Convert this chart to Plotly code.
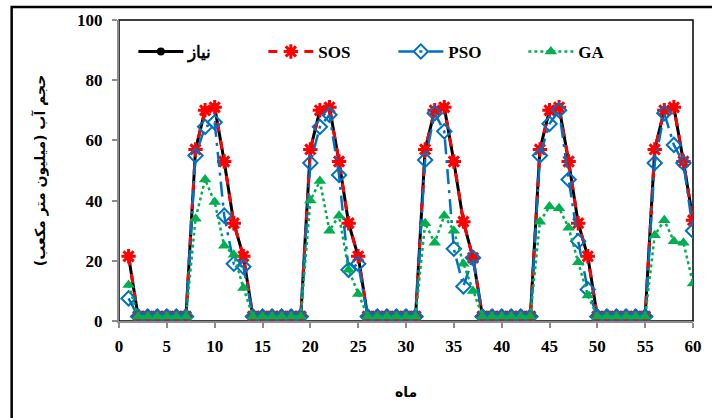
import plotly.graph_objects as go

months = list(range(1, 61))

demand = [21.5, 1.5, 1.5, 1.5, 1.5, 1.5, 1.5, 57, 70, 71, 53, 32.5,
          21.5, 1.5, 1.5, 1.5, 1.5, 1.5, 1.5, 57, 70, 71, 53, 32.5,
          21.5, 1.5, 1.5, 1.5, 1.5, 1.5, 1.5, 57, 70, 71, 53, 33,
          21, 1.5, 1.5, 1.5, 1.5, 1.5, 1.5, 57, 70, 71, 53, 32.5,
          21.5, 1.5, 1.5, 1.5, 1.5, 1.5, 1.5, 57, 70, 71, 53, 33.5]

sos = [21.5, 1.5, 1.5, 1.5, 1.5, 1.5, 1.5, 57, 70, 71, 53, 32.5,
       21.5, 1.5, 1.5, 1.5, 1.5, 1.5, 1.5, 57, 70, 71, 53, 32.5,
       21.5, 1.5, 1.5, 1.5, 1.5, 1.5, 1.5, 57, 70, 71, 53, 33,
       21, 1.5, 1.5, 1.5, 1.5, 1.5, 1.5, 57, 70, 71, 53, 32.5,
       21.5, 1.5, 1.5, 1.5, 1.5, 1.5, 1.5, 57, 70, 71, 53, 33.5]

pso = [7.5, 1.5, 1.5, 1.5, 1.5, 1.5, 1.5, 55, 64.5, 66, 35, 19,
       18, 1.5, 1.5, 1.5, 1.5, 1.5, 1.5, 52.5, 64.5, 68.5, 48.5, 17,
       19, 1.5, 1.5, 1.5, 1.5, 1.5, 1.5, 53.5, 69, 63, 24, 11.5,
       21, 1.5, 1.5, 1.5, 1.5, 1.5, 1.5, 55, 65.5, 70, 47, 26.5,
       10.5, 1.5, 1.5, 1.5, 1.5, 1.5, 1.5, 52.5, 69, 58.5, 52.5, 30]

ga = [12, 1.5, 1.5, 1.5, 1.5, 1.5, 1.5, 34, 47, 39.5, 25, 22,
      11, 1.5, 1.5, 1.5, 1.5, 1.5, 1.5, 40, 46.5, 30, 35, 17,
      9, 1.5, 1.5, 1.5, 1.5, 1.5, 1.5, 32.5, 26, 35, 30, 19,
      10, 1.5, 1.5, 1.5, 1.5, 1.5, 1.5, 33, 38, 37.5, 31, 19.5,
      8.5, 1.5, 1.5, 1.5, 1.5, 1.5, 1.5, 28.5, 33.5, 26.5, 26, 12.5]

names = ["نیاز", "SOS", "PSO", "GA"]
x_ticks = list(range(0, 61, 5))
y_ticks = list(range(0, 101, 20))

fig = go.Figure()
fig.add_trace(go.Scatter(x=months, y=demand, name=names[0], mode="lines+markers",
                         line=dict(color="black", width=3),
                         marker=dict(symbol="circle", size=8, color="black")))
fig.add_trace(go.Scatter(x=months, y=sos, name=names[1], mode="lines+markers",
                         line=dict(color="#FF0000", width=3, dash="dash"),
                         marker=dict(symbol="asterisk-open", size=12,
                                     line=dict(color="#FF0000", width=3))))
fig.add_trace(go.Scatter(x=months, y=pso, name=names[2], mode="lines+markers",
                         line=dict(color="#0070C0", width=2.5, dash="longdashdot"),
                         marker=dict(symbol="diamond-open", size=11,
                                     line=dict(color="#0070C0", width=2))))
fig.add_trace(go.Scatter(x=months, y=ga, name=names[3], mode="lines+markers",
                         line=dict(color="#00B050", width=2.5, dash="dot"),
                         marker=dict(symbol="triangle-up", size=11, color="#00B050")))

tickfont = dict(family="Liberation Serif", size=17, color="black", weight="bold")
fig.update_layout(
    width=712, height=418,
    margin=dict(l=119, r=19, t=20, b=97, autoexpand=False),
    paper_bgcolor="white", plot_bgcolor="white",
    showlegend=True,
    legend=dict(orientation="h", x=0.025, y=0.894, xanchor="left", yanchor="middle",
                font=dict(family="Liberation Serif", size=17, color="black", weight="bold"),
                bgcolor="rgba(0,0,0,0)", entrywidth=70, itemwidth=45),
    xaxis=dict(range=[0, 60], tickvals=x_ticks, showgrid=False, zeroline=False,
               showline=True, linecolor="#8C8C8C", linewidth=2, automargin=False,
               ticks="outside", tickcolor="#8C8C8C", ticklen=5, tickwidth=1.5,
               tickfont=tickfont, ticklabelstandoff=4,
               title=dict(text="ماه", font=dict(family="DejaVu Sans", size=14, color="black",
                                                 weight="bold"),
                          standoff=32)),
    yaxis=dict(range=[0, 100], tickvals=y_ticks, showgrid=False, zeroline=False,
               showline=True, linecolor="#8C8C8C", linewidth=2, automargin=False,
               ticks="outside", tickcolor="#8C8C8C", ticklen=5, tickwidth=1.5,
               tickfont=tickfont, ticklabelstandoff=6,
               title=dict(text="حجم آب (میلیون متر مکعب)",
                          font=dict(family="DejaVu Sans", size=14, color="black",
                                    weight="bold"),
                          standoff=28)),
    shapes=[
        dict(type="rect", xref="paper", yref="paper", x0=0, y0=0, x1=1, y1=1,
             line=dict(color="black", width=1.5), layer="below"),
        dict(type="rect", xref="paper", yref="paper", x0=-0.187, y0=-0.5, x1=1.06, y1=1.043,
             line=dict(color="black", width=2.5), layer="below"),
    ],
)

fig.write_html("out.html", config={"displayModeBar": False},
               post_script="document.body.style.margin='0';")
